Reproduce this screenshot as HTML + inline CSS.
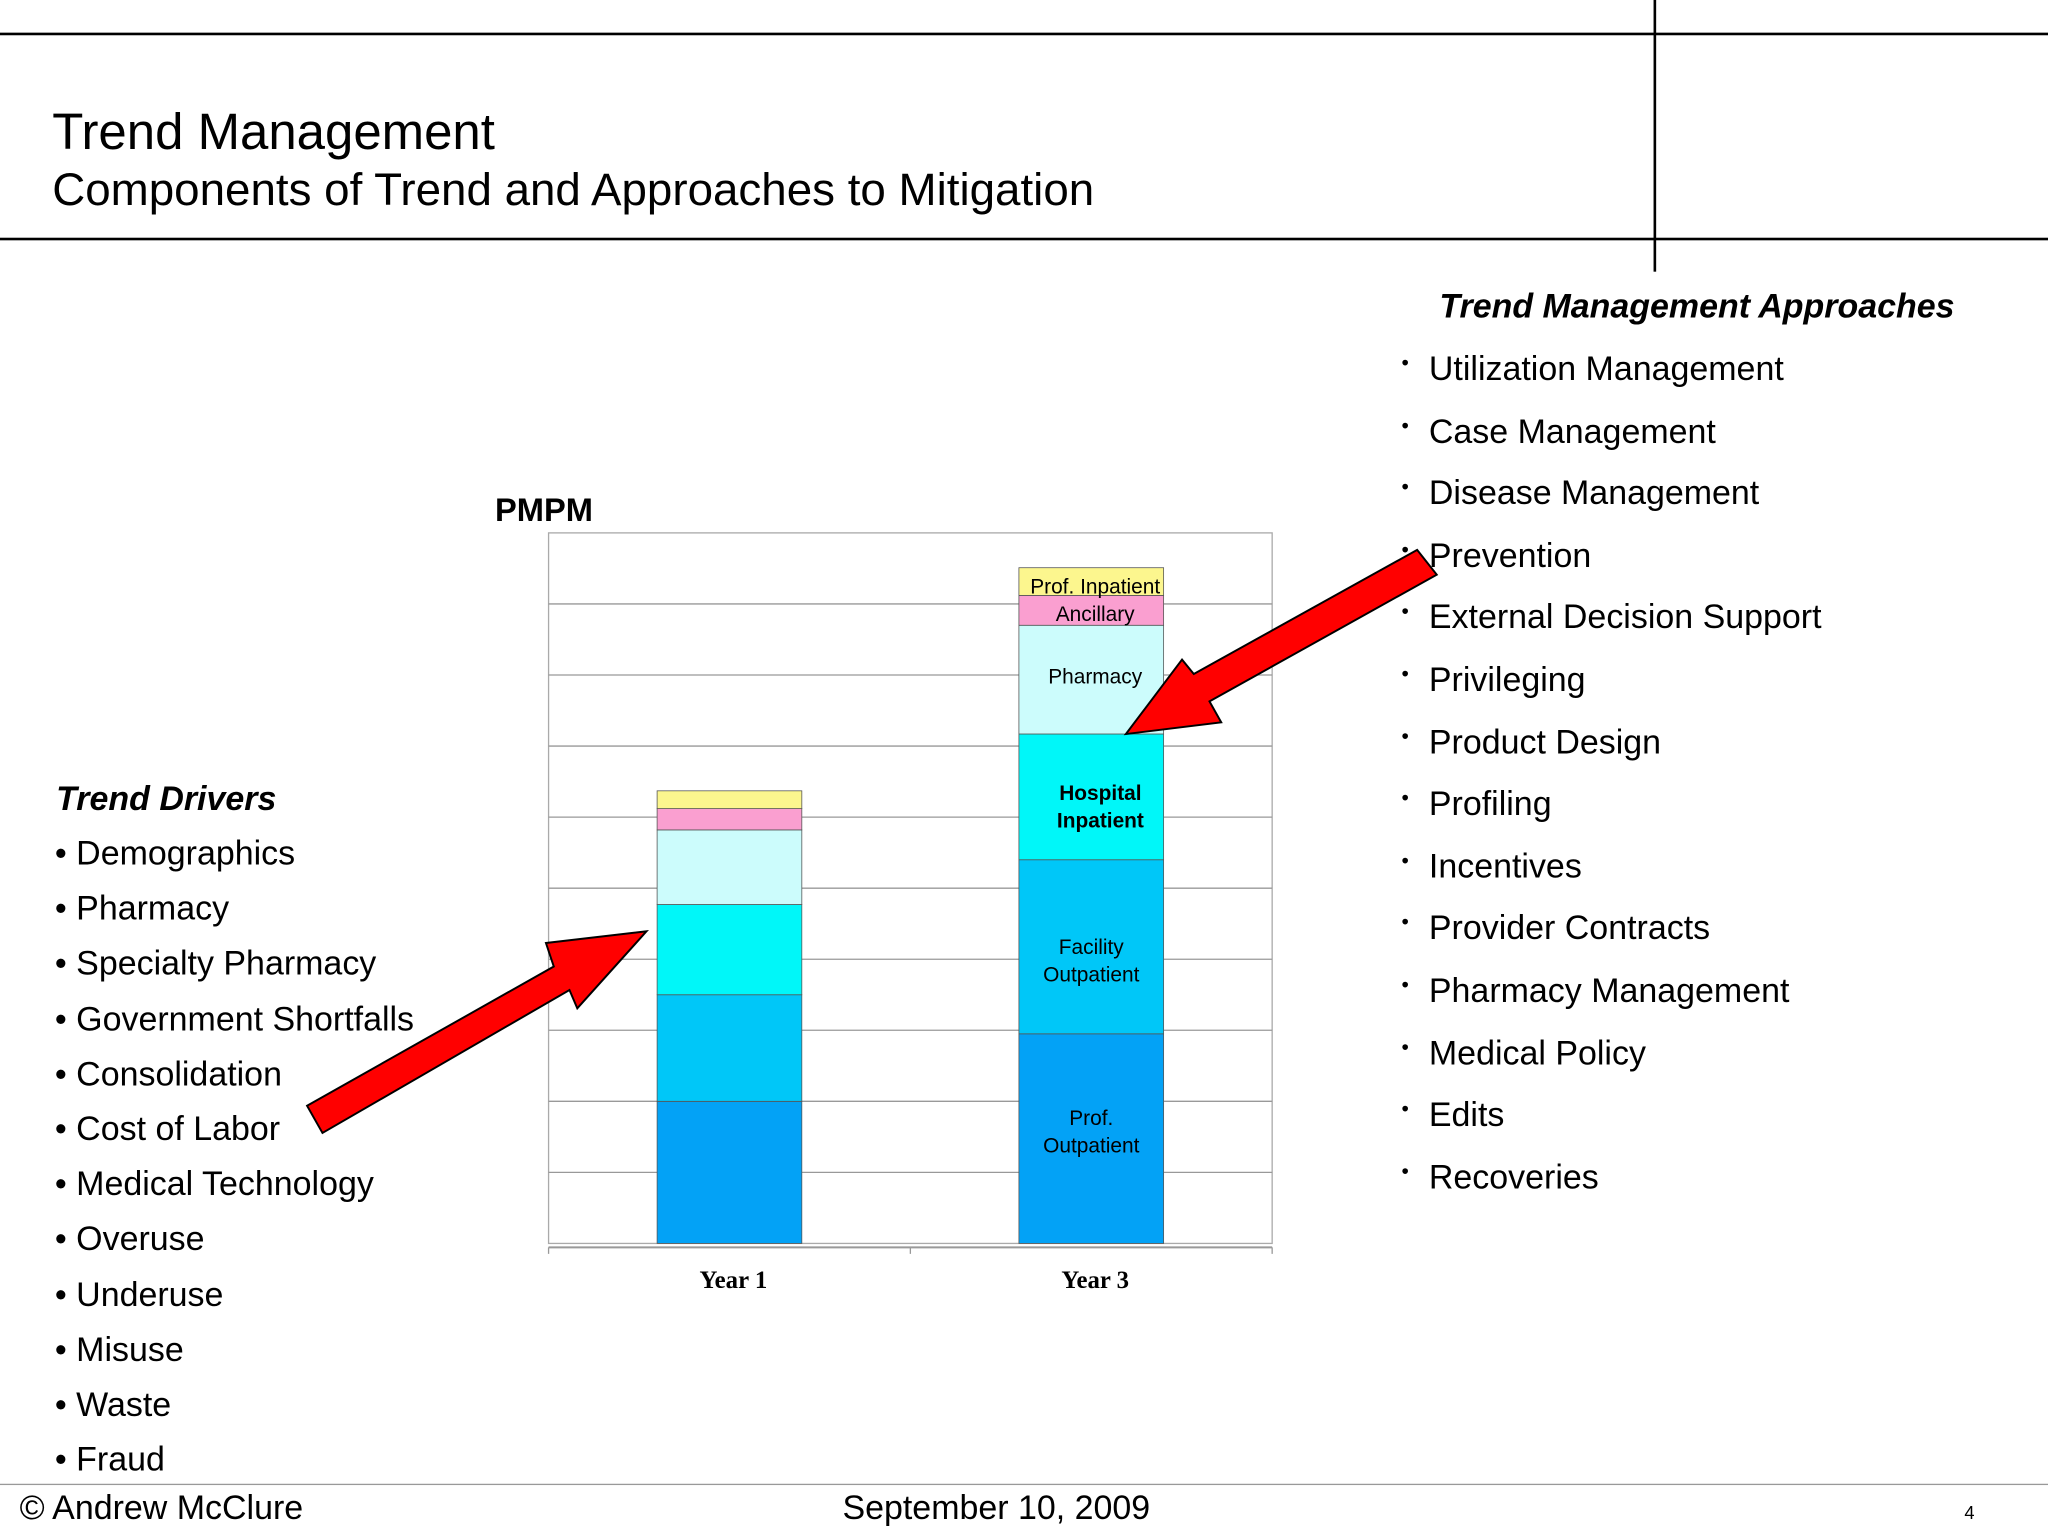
<!DOCTYPE html>
<html><head><meta charset="utf-8">
<style>
html,body{margin:0;padding:0;background:#fff;}
#page{position:absolute;left:0;top:0;width:1568px;height:1176px;transform:scale(1.306122);transform-origin:0 0;font-family:"Liberation Sans",sans-serif;color:#000;overflow:hidden;}
.t{position:absolute;white-space:nowrap;line-height:30px;}
.li{font-size:26px;}
</style></head><body>
<div id="page">
<div style="position:absolute;left:0;top:25px;width:1568px;height:2px;background:#000"></div>
<div style="position:absolute;left:1266px;top:0;width:2px;height:208px;background:#000"></div>
<div style="position:absolute;left:0;top:182px;width:1568px;height:2px;background:#000"></div>
<div class="t" style="left:40px;top:82px;font-size:39px;line-height:40px">Trend Management</div>
<div class="t" style="left:40px;top:127px;font-size:35px;line-height:38px">Components of Trend and Approaches to Mitigation</div>

<div class="t" style="left:1102px;top:219px;font-size:26px;font-weight:bold;font-style:italic">Trend Management Approaches</div>
<div id="rightlist"></div>
<div class="t" style="left:43px;top:596px;font-size:26px;font-weight:bold;font-style:italic">Trend Drivers</div>
<div id="leftlist"></div>

<div class="t" style="left:379px;top:376px;font-size:25px;font-weight:bold">PMPM</div>

<svg id="chart" style="position:absolute;left:0;top:0" width="1568" height="1176"></svg>

<div style="position:absolute;left:0;top:1136px;width:1568px;height:1px;background:#999"></div>
<div class="t" style="left:15px;top:1139px;font-size:26px">© Andrew McClure</div>
<div class="t" style="left:645px;top:1139px;font-size:26px">September 10, 2009</div>
<div class="t" style="left:1504px;top:1143px;font-size:14px">4</div>
</div>
<script>
const categories=["Year 1","Year 3"];
const seriesNames=["Prof. Outpatient","Facility Outpatient","Hospital Inpatient","Pharmacy","Ancillary","Prof. Inpatient"];
const profOutpatient=[2.0,2.95];
const facilityOutpatient=[1.5,2.45];
const hospitalInpatient=[1.27,1.77];
const pharmacy=[1.05,1.53];
const ancillary=[0.3,0.42];
const profInpatient=[0.25,0.39];
const yMax=10;
const gridCount=10;

const rightItems=["Utilization Management","Case Management","Disease Management","Prevention","External Decision Support","Privileging","Product Design","Profiling","Incentives","Provider Contracts","Pharmacy Management","Medical Policy","Edits","Recoveries"];
const leftItems=["Demographics","Pharmacy","Specialty Pharmacy","Government Shortfalls","Consolidation","Cost of Labor","Medical Technology","Overuse","Underuse","Misuse","Waste","Fraud"];

const rl=document.getElementById('rightlist');
rightItems.forEach((s,i)=>{
  const y=282+i*47.6;
  const b=document.createElement('div');b.className='t';b.style.cssText=`left:1073px;top:${y-18}px;font-size:16px`;b.textContent='•';
  
  
  rl.appendChild(b);
  const d=document.createElement('div');d.className='t li';d.style.cssText=`left:1094px;top:${y-15}px`;d.textContent=s;
  
  
  rl.appendChild(d);
});
const ll=document.getElementById('leftlist');
leftItems.forEach((s,i)=>{
  const y=653+i*42.2;
  const d=document.createElement('div');d.className='t li';d.style.cssText=`left:42px;top:${y-15}px`;d.textContent='• '+s;
  
  
  ll.appendChild(d);
});

const NS="http://www.w3.org/2000/svg";
const svg=document.getElementById('chart');
function el(t,a){const e=document.createElementNS(NS,t);for(const k in a)e.setAttribute(k,a[k]);svg.appendChild(e);return e;}
const X0=420,X1=974,Y0=952,Y1=408;
const yS=v=>Y0-(v/yMax)*(Y0-Y1);
const bandW=(X1-X0)/categories.length;
const xS=i=>X0+bandW*i+bandW*0.3;
const barW=bandW*0.4;
let r=el('rect',{x:X0,y:Y1,width:X1-X0,height:Y0-Y1,fill:'#fff',stroke:'#aaa','stroke-width':1});


for(let g=1;g<gridCount;g++){
  const l=el('line',{x1:X0,x2:X1,y1:yS(g*yMax/gridCount),y2:yS(g*yMax/gridCount),stroke:'#999','stroke-width':1});
  
  
}
const ax=el('line',{x1:X0,x2:X1,y1:955,y2:955,stroke:'#999','stroke-width':1.5});


for(let i=0;i<=categories.length;i++){
  const tk=el('line',{x1:X0+bandW*i,x2:X0+bandW*i,y1:955,y2:960,stroke:'#999'});
  
  
}
const series=[profOutpatient,facilityOutpatient,hospitalInpatient,pharmacy,ancillary,profInpatient];
const colors=["#03a2f6","#00c7f8","#00f7f9","#ccfcfc","#fa9fd0","#fcf68e"];
const labelLines=[["Prof.","Outpatient"],["Facility","Outpatient"],["Hospital","Inpatient"],["Pharmacy"],["Ancillary"],["Prof. Inpatient"]];
const labelDy=[-6,10,7,-3,2,3];
categories.forEach((c,i)=>{
  let acc=0;
  series.forEach((s,k)=>{
    const yt=yS(acc+s[i]),yb=yS(acc);
    const b=el('rect',{x:xS(i),y:yt,width:barW,height:yb-yt,fill:colors[k],stroke:'#555','stroke-width':0.6});
    
    
    if(i===1){
      const lines=labelLines[k];
      const cy=(yt+yb)/2+labelDy[k];
      const bold=k===2;
      lines.forEach((ln,j)=>{
        const t=el('text',{x:xS(i)+barW/2+(bold?7:(k>=3?3:0)),y:cy+6+(j-(lines.length-1)/2)*21,'text-anchor':'middle','font-size':16,'font-weight':bold?'bold':'normal','font-family':'Liberation Sans, sans-serif',fill:'#000'});
        t.textContent=ln;
        
        
      });
    }
    acc+=s[i];
  });
  const t=el('text',{x:X0+bandW*(i+0.5)+3,y:986,'text-anchor':'middle','font-size':19,'font-weight':'bold','font-family':'Liberation Serif, serif'});
  t.textContent=c;
  
  
});
const a1=el('polygon',{points:"495,713 442,772 436,758 246.9,867.4 235.1,846.6 424,740 418,722",fill:'#f00',stroke:'#000','stroke-width':1.5});


const a2=el('polygon',{points:"862,562 935,553 926,537 1100,440 1085,421 914,516 905,505",fill:'#f00',stroke:'#000','stroke-width':1.5});


</script>
</body></html>
